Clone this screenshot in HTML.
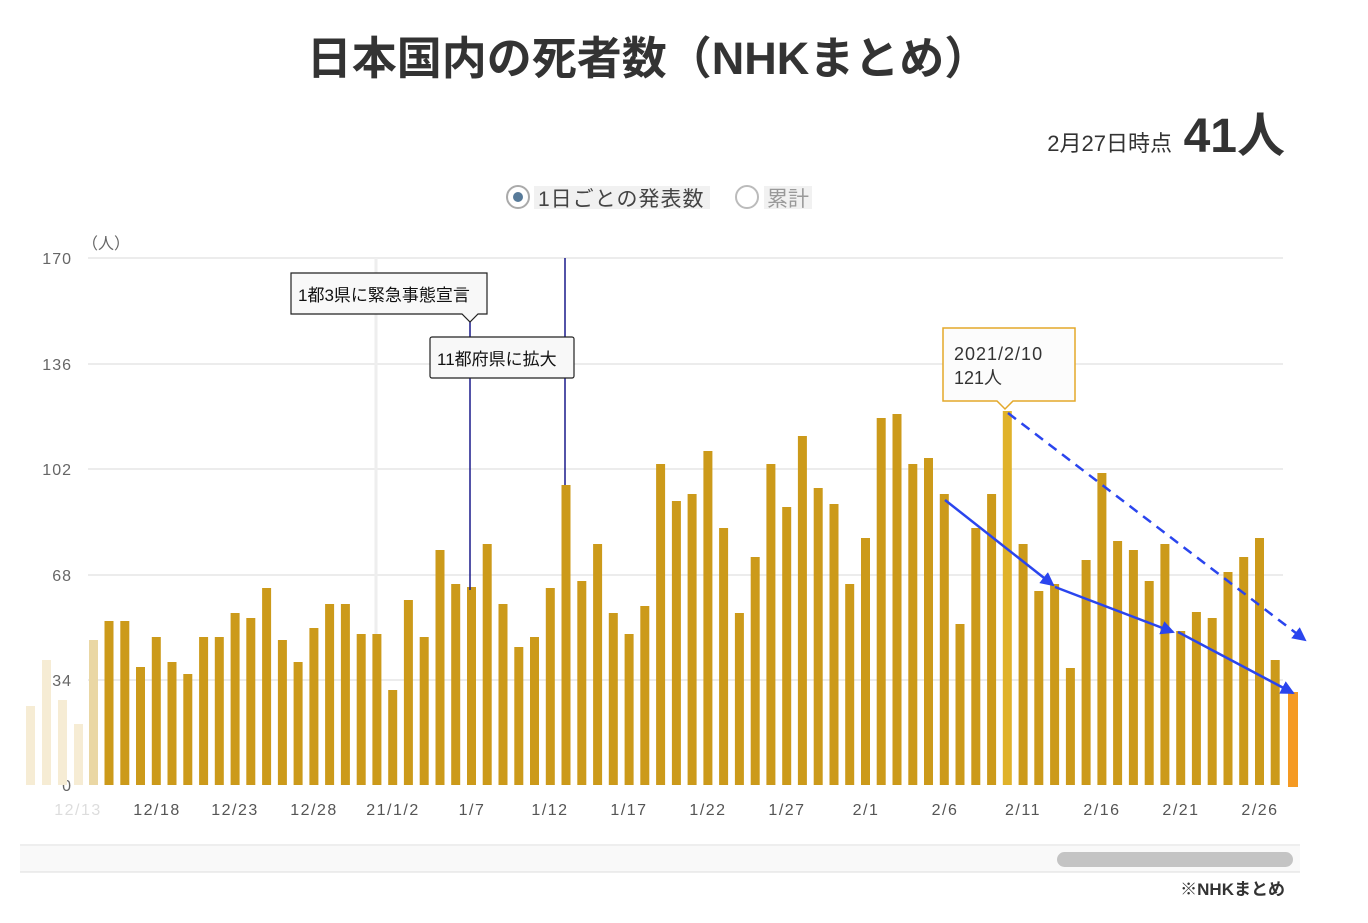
<!DOCTYPE html>
<html><head><meta charset="utf-8"><style>
body{margin:0;background:#fff;width:1368px;height:918px;overflow:hidden;font-family:"Liberation Sans","Noto Sans CJK JP",sans-serif}
</style></head><body>
<svg width="1368" height="918" xmlns="http://www.w3.org/2000/svg" font-family="Liberation Sans, Noto Sans CJK JP, sans-serif">
<text x="648" y="74" font-size="45" font-weight="bold" text-anchor="middle" fill="#333">日本国内の死者数（NHKまとめ）</text>
<text x="1172" y="151" font-size="22" text-anchor="end" fill="#333">2月27日時点</text>
<text x="1285" y="152" font-size="48" font-weight="bold" text-anchor="end" fill="#333">41人</text>
<circle cx="518" cy="197" r="11" fill="#fff" stroke="#aaa" stroke-width="2"/>
<circle cx="518" cy="197" r="5" fill="#577a99"/>
<rect x="534" y="186" width="176" height="23" fill="#f1f1f1"/>
<text x="538" y="206" font-size="21" fill="#444" letter-spacing="1">1日ごとの発表数</text>
<circle cx="747" cy="197" r="11" fill="#fff" stroke="#bbb" stroke-width="2"/>
<rect x="764" y="186" width="48" height="23" fill="#f1f1f1"/>
<text x="767" y="206" font-size="21" fill="#999">累計</text>
<text x="82" y="249" font-size="16" fill="#666">（人）</text>
<g stroke="#e6e6e6" stroke-width="1.5">
<line x1="88" y1="258" x2="1283" y2="258"/><line x1="88" y1="364" x2="1283" y2="364"/>
<line x1="88" y1="469" x2="1283" y2="469"/><line x1="88" y1="575" x2="1283" y2="575"/>
<line x1="88" y1="680" x2="1283" y2="680"/>
</g>
<line x1="376" y1="258" x2="376" y2="785" stroke="#eee" stroke-width="3"/>
<g font-size="16" fill="#666" text-anchor="end" letter-spacing="1">
<text x="72" y="264">170</text><text x="72" y="370">136</text><text x="72" y="475">102</text>
<text x="72" y="581">68</text><text x="72" y="686">34</text><text x="72" y="791">0</text>
</g>
<g fill="#f6ecd4">
<rect x="26" y="706" width="9" height="79"/><rect x="42" y="660" width="9" height="125"/>
<rect x="58" y="700" width="9" height="85"/><rect x="74" y="724" width="9" height="61"/>
<rect x="89" y="640" width="9" height="145" fill="#ead7a4"/>
</g>
<g id="bars" fill="#cc9a1a"></g>
<rect x="1288" y="692" width="10" height="95" fill="#f59a23"/>
<line x1="470" y1="322" x2="470" y2="590" stroke="#1a1a8c" stroke-width="1.5"/>
<line x1="565" y1="258" x2="565" y2="485" stroke="#1a1a8c" stroke-width="1.5"/>
<g stroke="#222" stroke-width="1.2" fill="#f8f8f8">
<path d="M291 273 H487 V314 H478 L470 322 L462 314 H291 Z"/>
<rect x="430" y="337" width="144" height="41" rx="2"/>
</g>
<text x="298" y="301" font-size="17" fill="#111">1都3県に緊急事態宣言</text>
<text x="437" y="365" font-size="17" fill="#111">11都府県に拡大</text>
<path d="M943 328 H1075 V401 H1013 L1005 409 L997 401 H943 Z" fill="#fcfcfc" stroke="#e3a82a" stroke-width="1.5"/>
<text x="954" y="360" font-size="18" fill="#333" letter-spacing="1">2021/2/10</text>
<text x="954" y="384" font-size="18" fill="#333">121人</text>
<g font-size="16" fill="#555" text-anchor="middle" letter-spacing="1.5">
<text x="78" y="815" fill="#ddd">12/13</text><text x="157" y="815">12/18</text><text x="235" y="815">12/23</text>
<text x="314" y="815">12/28</text><text x="393" y="815">21/1/2</text><text x="472" y="815">1/7</text>
<text x="550" y="815">1/12</text><text x="629" y="815">1/17</text><text x="708" y="815">1/22</text>
<text x="787" y="815">1/27</text><text x="866" y="815">2/1</text><text x="945" y="815">2/6</text>
<text x="1023" y="815">2/11</text><text x="1102" y="815">2/16</text><text x="1181" y="815">2/21</text><text x="1260" y="815">2/26</text>
</g>
<defs>
<marker id="ah2" markerWidth="14" markerHeight="14" refX="12" refY="7" orient="auto" markerUnits="userSpaceOnUse"><path d="M0 0 L14 7 L0 14 Z" fill="#2a45ee"/></marker></defs>
<g stroke="#2a45ee" stroke-width="2.5" fill="none">
<line x1="945" y1="500" x2="1053" y2="585" marker-end="url(#ah2)"/>
<line x1="1055" y1="587" x2="1173" y2="632" marker-end="url(#ah2)"/>
<line x1="1178" y1="632" x2="1293" y2="693" marker-end="url(#ah2)"/>
<line x1="1008" y1="413" x2="1305" y2="640" stroke-dasharray="10,7" marker-end="url(#ah2)"/>
</g>
<line x1="20" y1="845" x2="1300" y2="845" stroke="#ddd"/>
<rect x="20" y="846" width="1280" height="26" fill="#f9f9f9"/>
<line x1="20" y1="872" x2="1300" y2="872" stroke="#ddd"/>
<rect x="1057" y="852" width="236" height="15" rx="7.5" fill="#c4c4c4"/>
<text x="1285" y="895" font-size="17" font-weight="bold" text-anchor="end" fill="#333">※NHKまとめ</text>
</svg>
<script>
var t=[621,621,667,637,662,674,637,637,613,618,588,640,662,628,604,604,634,634,690,600,637,550,584,587,544,604,647,637,588,485,581,544,613,634,606,464,501,494,451,528,613,557,464,507,436,488,504,584,538,418,414,464,458,494,624,528,494,411,544,591,584,668,560,473,541,550,581,544,631,612,618,572,557,538,660];
var g=document.getElementById('bars'),s='';
for(var i=0;i<t.length;i++){var x=109+i*15.76-4.5;s+='<rect xmlns="http://www.w3.org/2000/svg" x="'+x.toFixed(1)+'" y="'+t[i]+'" width="9" height="'+(785-t[i])+'"'+(i==57?' fill="#e0b22a"':'')+'/>';}
g.innerHTML=s;
</script>
</body></html>
